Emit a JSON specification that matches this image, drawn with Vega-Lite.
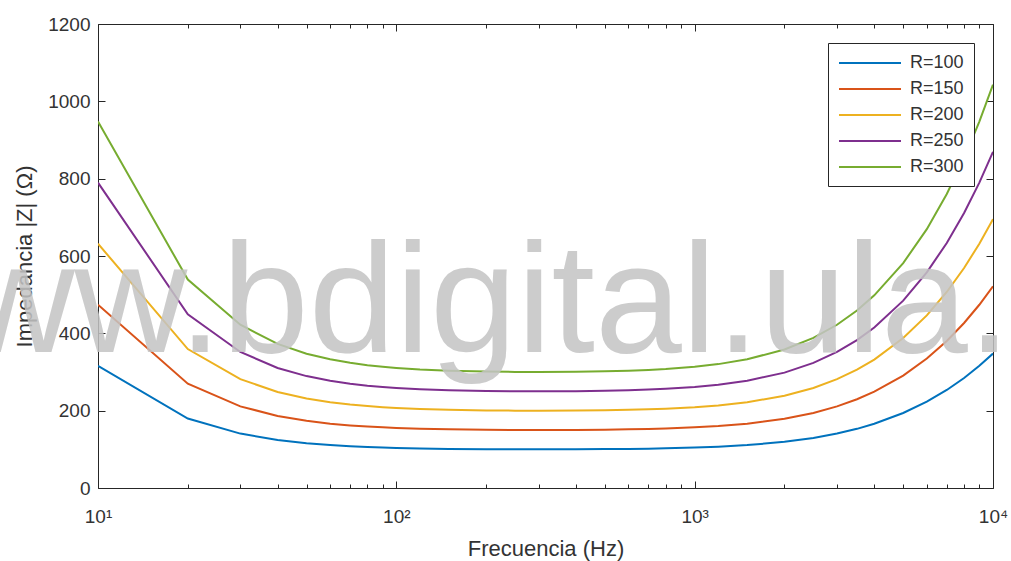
{
  "$schema": "https://vega.github.io/schema/vega-lite/v6.json",
  "width": 895,
  "height": 464,
  "autosize": {"type": "none"},
  "padding": {"left": 98, "top": 24, "right": 18, "bottom": 73},
  "background": "white",
  "config": {
    "view": {"stroke": "#262626", "strokeWidth": 1},
    "font": "Liberation Sans",
    "axis": {"grid": false, "domain": false, "labelFont": "Liberation Sans", "titleFont": "Liberation Sans", "labelColor": "#333333", "titleColor": "#333333", "tickColor": "#262626", "labelFlush": false, "labelOverlap": false, "labelBound": false}
  },
  "data": {"values": [
    {"f":10,"R=100":315.9,"R=150":473.9,"R=200":631.8,"R=250":789.8,"R=300":947.7},
    {"f":20,"R=100":179.7,"R=150":269.6,"R=200":359.4,"R=250":449.3,"R=300":539.1},
    {"f":30,"R=100":140.7,"R=150":211.1,"R=200":281.4,"R=250":351.8,"R=300":422.2},
    {"f":40,"R=100":124.2,"R=150":186.3,"R=200":248.4,"R=250":310.5,"R=300":372.6},
    {"f":50,"R=100":115.8,"R=150":173.7,"R=200":231.5,"R=250":289.4,"R=300":347.3},
    {"f":60,"R=100":110.9,"R=150":166.4,"R=200":221.8,"R=250":277.3,"R=300":332.8},
    {"f":70,"R=100":107.9,"R=150":161.9,"R=200":215.8,"R=250":269.8,"R=300":323.7},
    {"f":80,"R=100":105.9,"R=150":158.8,"R=200":211.8,"R=250":264.7,"R=300":317.7},
    {"f":90,"R=100":104.5,"R=150":156.8,"R=200":209.0,"R=250":261.3,"R=300":313.5},
    {"f":100,"R=100":103.5,"R=150":155.2,"R=200":207.0,"R=250":258.7,"R=300":310.5},
    {"f":120,"R=100":102.2,"R=150":153.3,"R=200":204.4,"R=250":255.5,"R=300":306.5},
    {"f":150,"R=100":101.1,"R=150":151.7,"R=200":202.2,"R=250":252.8,"R=300":303.4},
    {"f":200,"R=100":100.3,"R=150":150.5,"R=200":200.7,"R=250":250.9,"R=300":301.0},
    {"f":250,"R=100":100.1,"R=150":150.1,"R=200":200.1,"R=250":250.2,"R=300":300.2},
    {"f":300,"R=100":100.0,"R=150":150.0,"R=200":200.0,"R=250":250.0,"R=300":300.0},
    {"f":400,"R=100":100.2,"R=150":150.3,"R=200":200.3,"R=250":250.4,"R=300":300.5},
    {"f":500,"R=100":100.6,"R=150":150.9,"R=200":201.1,"R=250":251.4,"R=300":301.7},
    {"f":600,"R=100":101.1,"R=150":151.7,"R=200":202.2,"R=250":252.8,"R=300":303.4},
    {"f":700,"R=100":101.8,"R=150":152.7,"R=200":203.6,"R=250":254.5,"R=300":305.4},
    {"f":800,"R=100":102.6,"R=150":153.9,"R=200":205.2,"R=250":256.5,"R=300":307.8},
    {"f":1000,"R=100":104.5,"R=150":156.8,"R=200":209.0,"R=250":261.3,"R=300":313.5},
    {"f":1200,"R=100":106.8,"R=150":160.2,"R=200":213.6,"R=250":267.0,"R=300":320.4},
    {"f":1500,"R=100":110.9,"R=150":166.4,"R=200":221.8,"R=250":277.3,"R=300":332.8},
    {"f":2000,"R=100":119.4,"R=150":179.0,"R=200":238.7,"R=250":298.4,"R=300":358.1},
    {"f":2500,"R=100":129.4,"R=150":194.1,"R=200":258.8,"R=250":323.5,"R=300":388.2},
    {"f":3000,"R=100":140.7,"R=150":211.1,"R=200":281.4,"R=250":351.8,"R=300":422.2},
    {"f":3500,"R=100":153.0,"R=150":229.5,"R=200":306.0,"R=250":382.5,"R=300":459.0},
    {"f":4000,"R=100":166.1,"R=150":249.1,"R=200":332.1,"R=250":415.2,"R=300":498.2},
    {"f":5000,"R=100":193.9,"R=150":290.8,"R=200":387.7,"R=250":484.6,"R=300":581.6},
    {"f":6000,"R=100":223.2,"R=150":334.7,"R=200":446.3,"R=250":557.9,"R=300":669.5},
    {"f":7000,"R=100":253.5,"R=150":380.2,"R=200":506.9,"R=250":633.7,"R=300":760.4},
    {"f":8000,"R=100":284.5,"R=150":426.7,"R=200":568.9,"R=250":711.1,"R=300":853.4},
    {"f":9000,"R=100":315.9,"R=150":473.9,"R=200":631.8,"R=250":789.8,"R=300":947.7},
    {"f":10000,"R=100":347.7,"R=150":521.6,"R=200":695.4,"R=250":869.3,"R=300":1043.1}
  ]},
  "resolve": {"axis": {"x": "independent", "y": "independent"}},
  "layer": [
    {
      "transform": [{"fold": ["R=100", "R=150", "R=200", "R=250", "R=300"], "as": ["serie", "Z"]}],
      "mark": {"type": "line", "strokeWidth": 2, "clip": true},
      "encoding": {
        "x": {"field": "f", "type": "quantitative", "scale": {"type": "log", "domain": [10, 10000]},
          "axis": {"orient": "bottom", "values": [10, 100, 1000, 10000], "ticks": false, "labelFontSize": 19, "labelPadding": 19,
            "labelExpr": "datum.value == 10 ? '10¹' : datum.value == 100 ? '10²' : datum.value == 1000 ? '10³' : '10⁴'",
            "title": "Frecuencia (Hz)", "titleFontSize": 22, "titleFontWeight": "normal", "titlePadding": 12}},
        "y": {"field": "Z", "type": "quantitative", "scale": {"domain": [0, 1200], "nice": false},
          "axis": {"orient": "left", "values": [0, 200, 400, 600, 800, 1000, 1200], "format": "d", "ticks": false, "labelFontSize": 19, "labelPadding": 8,
            "title": "Impedancia |Z| (Ω)", "titleFontSize": 22, "titleFontWeight": "normal", "titlePadding": 11}},
        "color": {"field": "serie", "type": "nominal",
          "scale": {"domain": ["R=100", "R=150", "R=200", "R=250", "R=300"], "range": ["#0072BD", "#D95319", "#EDB120", "#7E2F8E", "#77AC30"]},
          "legend": {"title": null, "orient": "top-right", "offset": 19, "symbolType": "M-1,0H5.889", "symbolSize": 324, "symbolStrokeWidth": 2,
            "labelFontSize": 18, "labelFont": "Liberation Sans", "labelColor": "#333333", "labelOffset": 52, "rowPadding": 7, "padding": 10,
            "strokeColor": "#262626", "fillColor": "white", "cornerRadius": 0}}
      }
    },
    {
      "mark": {"type": "line", "opacity": 0},
      "encoding": {
        "x": {"field": "f", "type": "quantitative", "scale": {"type": "log", "domain": [10, 10000]},
          "axis": {"orient": "bottom", "values": [10, 100, 1000, 10000], "labels": false, "tickSize": -7, "title": null}},
        "y": {"field": "R=100", "type": "quantitative", "scale": {"domain": [0, 1200], "nice": false},
          "axis": {"orient": "left", "values": [0, 200, 400, 600, 800, 1000, 1200], "labels": false, "tickSize": -7, "title": null}}
      }
    },
    {
      "mark": {"type": "line", "opacity": 0},
      "encoding": {
        "x": {"field": "f", "type": "quantitative", "scale": {"type": "log", "domain": [10, 10000]},
          "axis": {"orient": "bottom", "values": [20, 30, 40, 50, 60, 70, 80, 90, 200, 300, 400, 500, 600, 700, 800, 900, 2000, 3000, 4000, 5000, 6000, 7000, 8000, 9000], "labels": false, "tickSize": -4, "title": null}},
        "y": {"field": "R=100", "type": "quantitative", "scale": {"domain": [0, 1200], "nice": false},
          "axis": {"orient": "right", "values": [0, 200, 400, 600, 800, 1000, 1200], "labels": false, "tickSize": -7, "title": null}}
      }
    },
    {
      "mark": {"type": "line", "opacity": 0},
      "encoding": {
        "x": {"field": "f", "type": "quantitative", "scale": {"type": "log", "domain": [10, 10000]},
          "axis": {"orient": "top", "values": [10, 100, 1000, 10000], "labels": false, "tickSize": -7, "title": null}},
        "y": {"field": "R=100", "type": "quantitative", "scale": {"domain": [0, 1200], "nice": false}, "axis": null}
      }
    },
    {
      "mark": {"type": "line", "opacity": 0},
      "encoding": {
        "x": {"field": "f", "type": "quantitative", "scale": {"type": "log", "domain": [10, 10000]},
          "axis": {"orient": "top", "values": [20, 30, 40, 50, 60, 70, 80, 90, 200, 300, 400, 500, 600, 700, 800, 900, 2000, 3000, 4000, 5000, 6000, 7000, 8000, 9000], "labels": false, "tickSize": -4, "title": null}},
        "y": {"field": "R=100", "type": "quantitative", "scale": {"domain": [0, 1200], "nice": false}, "axis": null}
      }
    },
    {
      "data": {"values": [{"fx": 1.466, "zy": 352, "t": "www.bdigital.ula.ve"}]},
      "mark": {"type": "text", "align": "left", "baseline": "alphabetic", "fontSize": 156, "font": "Liberation Sans", "fill": "#c4c4c4", "opacity": 0.85},
      "encoding": {
        "x": {"field": "fx", "type": "quantitative", "scale": {"type": "log", "domain": [10, 10000]}, "axis": null},
        "y": {"field": "zy", "type": "quantitative", "scale": {"domain": [0, 1200], "nice": false}, "axis": null},
        "text": {"field": "t"}
      }
    }
  ]
}
